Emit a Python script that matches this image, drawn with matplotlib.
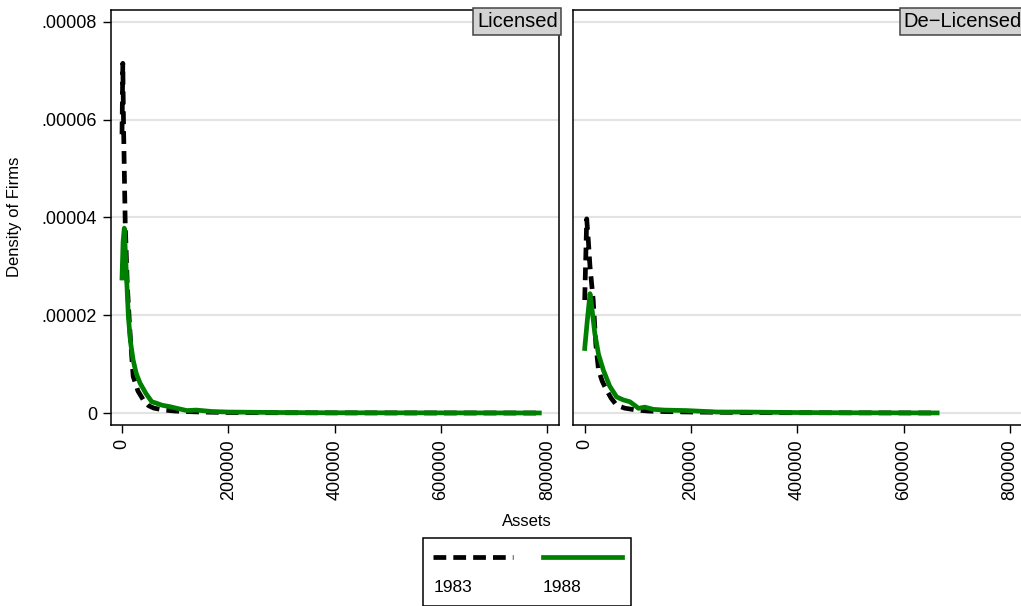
import matplotlib
matplotlib.use("Agg")
import matplotlib.pyplot as plt
from matplotlib.ticker import FuncFormatter
from matplotlib.patches import Rectangle

plt.rcParams["font.family"] = ["Liberation Sans", "DejaVu Sans"]

# ── Data (assets, density) ──────────────────────────────────────────────────
lic_83_x = [0, 1500, 3000, 6000, 10000, 15000, 21000, 30000, 40000, 50000, 60000,
            80000, 100000, 120000, 150000, 200000, 300000, 400000, 500000, 600000,
            700000, 780000]
lic_83_y = [5.7e-5, 7.15e-5, 5.8e-5, 3.9e-5, 2.6e-5, 1.65e-5, 0.75e-5, 0.45e-5,
            0.27e-5, 0.15e-5, 0.10e-5, 0.06e-5, 0.04e-5, 0.03e-5, 0.02e-5, 0.01e-5,
            0.005e-5, 0.003e-5, 0.002e-5, 0.001e-5, 0.001e-5, 0.0]

lic_88_x = [0, 2000, 4300, 8000, 12000, 16000, 21000, 27000, 34000, 45000, 56000,
            65000, 75000, 90000, 103000, 122000, 140000, 170000, 200000, 300000,
            400000, 500000, 600000, 700000, 785000]
lic_88_y = [2.76e-5, 3.5e-5, 3.78e-5, 2.9e-5, 1.97e-5, 1.45e-5, 1.08e-5, 0.8e-5,
            0.61e-5, 0.4e-5, 0.23e-5, 0.2e-5, 0.16e-5, 0.13e-5, 0.096e-5, 0.05e-5,
            0.06e-5, 0.03e-5, 0.02e-5, 0.01e-5, 0.005e-5, 0.004e-5, 0.003e-5,
            0.002e-5, 0.001e-5]

delic_83_x = [0, 3800, 7000, 10000, 16000, 21000, 26000, 33000, 41000, 50000, 60000,
              75000, 98000, 120000, 150000, 200000, 300000, 400000, 500000, 600000,
              660000]
delic_83_y = [2.31e-5, 3.97e-5, 3.5e-5, 2.99e-5, 2.31e-5, 1.4e-5, 0.88e-5, 0.65e-5,
              0.47e-5, 0.3e-5, 0.16e-5, 0.1e-5, 0.06e-5, 0.04e-5, 0.03e-5, 0.02e-5,
              0.01e-5, 0.006e-5, 0.004e-5, 0.002e-5, 0.001e-5]

delic_88_x = [0, 5000, 10000, 14000, 19000, 26000, 35000, 47000, 60000, 72000, 85000,
              95000, 101000, 113000, 129000, 150000, 192000, 250000, 300000, 400000,
              500000, 600000, 663000]
delic_88_y = [1.32e-5, 1.9e-5, 2.44e-5, 2.1e-5, 1.63e-5, 1.2e-5, 0.88e-5, 0.55e-5,
              0.33e-5, 0.27e-5, 0.23e-5, 0.15e-5, 0.096e-5, 0.12e-5, 0.075e-5,
              0.06e-5, 0.05e-5, 0.02e-5, 0.02e-5, 0.01e-5, 0.005e-5, 0.003e-5,
              0.002e-5]

panels = ["Licensed", "De\u2212Licensed"]
years = ["1983", "1988"]
y_ticks = [0, 0.00002, 0.00004, 0.00006, 0.00008]
x_ticks = [0, 200000, 400000, 600000, 800000]

GREEN = "#008000"
LW = 3.4
DASH = (0, (2.7, 1.5))

W, H = 1021, 606
fig = plt.figure(figsize=(W / 100, H / 100), dpi=100)
ax1 = fig.add_axes([111 / W, (H - 425) / H, 448 / W, 415 / H])
ax2 = fig.add_axes([573 / W, (H - 425) / H, 450 / W, 415 / H])

series = [
    (ax1, lic_83_x, lic_83_y, lic_88_x, lic_88_y, (-20700, 822000)),
    (ax2, delic_83_x, delic_83_y, delic_88_x, delic_88_y, (-22000, 824500)),
]

def _yfmt(v, _):
    return "0" if v == 0 else f"{v:.5f}".lstrip("0")

for (ax, x83, y83, x88, y88, xl), title in zip(series, panels):
    ax.plot(x83, y83, color="black", lw=LW, ls=DASH, zorder=3)
    ax.plot(x88, y88, color=GREEN, lw=LW, zorder=4)
    ax.set_xlim(*xl)
    ax.set_ylim(-0.00000245, 0.0000824)
    ax.set_yticks(y_ticks)
    ax.set_xticks(x_ticks)
    ax.set_xticklabels([str(v) for v in x_ticks], rotation=90, fontsize=13)
    ax.grid(axis="y", color="#e3e3e3", lw=1.5, zorder=0)
    ax.tick_params(axis="x", length=6, width=1, pad=4)
    for s in ax.spines.values():
        s.set_linewidth(1.1)
    ax.text(0.997, 0.995, title, transform=ax.transAxes, ha="right", va="top",
            fontsize=14.5, zorder=6,
            bbox=dict(boxstyle="square,pad=0.18", facecolor="#d3d3d3",
                      edgecolor="#444444", linewidth=1.1))

ax1.yaxis.set_major_formatter(FuncFormatter(_yfmt))
ax1.tick_params(axis="y", labelsize=13, length=6, width=1, pad=4)
ax2.tick_params(axis="y", left=False, labelleft=False)
ax2.spines["right"].set_visible(False)

fig.text(15 / W, 1 - 217 / H, "Density of Firms", rotation=90,
         ha="center", va="center", fontsize=12)
fig.text(527 / W, 1 - 521 / H, "Assets", ha="center", va="center", fontsize=12)

# ── Legend (Stata style: key above label) ───────────────────────────────────
lax = fig.add_axes([423 / W, 0, 208 / W, (H - 538) / H])
lax.set_xlim(0, 208)
lax.set_ylim(-4, 68)
lax.axis("off")
lax.add_patch(Rectangle((0, -4), 208, 72, facecolor="white", edgecolor="black",
                        lw=1.1, clip_on=False))
lax.plot([10, 90], [48, 48], color="black", lw=LW, ls=DASH)
lax.plot([120, 199], [48, 48], color=GREEN, lw=LW)
lax.text(11, 16, years[0], fontsize=12.5, ha="left", va="center")
lax.text(120, 16, years[1], fontsize=12.5, ha="left", va="center")

fig.savefig("out.png", dpi=100, facecolor="white")
